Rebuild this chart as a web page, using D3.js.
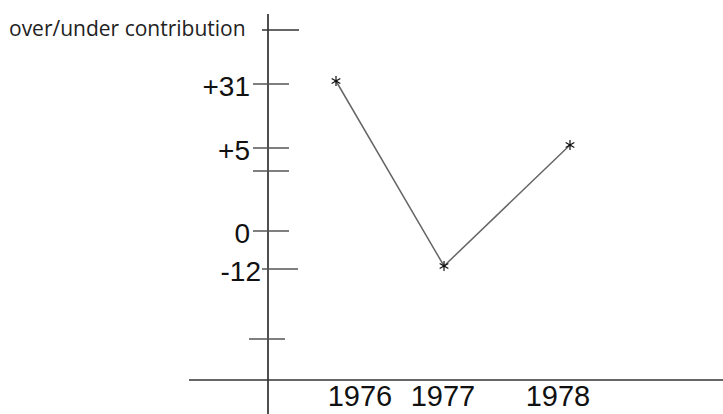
<!doctype html>
<html>
<head>
    <meta charset="UTF-8">
    <title>over/under contribution</title>
    <script src="https://d3js.org/d3.v7.min.js"></script>
    <style>
        body{ margin:0; background:#fff; }
        text{ font-family:"Liberation Sans", Arial, sans-serif; fill:#111; }
        .title{ font-family:"Open Sans", sans-serif; font-size:21px; fill:#222; }
    </style>
</head>
<body>
    <svg width="723" height="414" id="svg1"></svg>

    <script>
        // data
        var years = [1976, 1977, 1978];
        var values = [31, -12, 5];
        // y axis tick marks (hand drawn, not evenly spaced)
        var yTicks = [31, 5, 4, 0, -12, -30];
        var yTickLabels = ["+31", "+5", "", "0", "-12", ""];
        var yTitle = "over/under contribution";

        var w = 723, h = 414;
        var axisX = 268, axisY = 380;

        var svg = d3.select("#svg1");

        // piecewise scales, the sketch is not to scale
        var y = d3.scaleLinear()
                  .domain([31, 5, 4, 0, -12, -30])
                  .range([84, 148, 171, 231, 269, 339]);
        var xPt = d3.scaleLinear()
                    .domain(years)
                    .range([336, 444, 570]);
        var xLab = d3.scaleLinear()
                     .domain(years)
                     .range([360, 443, 558]);

        // axes
        svg.append("line")
           .attr("x1", axisX).attr("x2", axisX)
           .attr("y1", 14).attr("y2", h)
           .attr("stroke", "#222").attr("stroke-width", 1.6);
        svg.append("line")
           .attr("x1", 189).attr("x2", w)
           .attr("y1", axisY).attr("y2", axisY)
           .attr("stroke", "#333").attr("stroke-width", 1.6);

        // title tick
        svg.append("line")
           .attr("x1", axisX - 6).attr("x2", axisX + 31)
           .attr("y1", 30).attr("y2", 30)
           .attr("stroke", "#333").attr("stroke-width", 1.4);
        svg.append("text")
           .attr("class", "title")
           .attr("x", 9).attr("y", 36)
           .text(yTitle);

        var tickShift = {"-12": 9, "-30": -4};

        svg.selectAll("line.ytick")
           .data(yTicks)
           .enter().append("line")
           .attr("class", "ytick")
           .attr("x1", function(d){ return axisX - 15 + (tickShift[d] || 0); })
           .attr("x2", function(d){ return axisX + 21 + (tickShift[d] || 0); })
           .attr("y1", function(d){ return y(d); })
           .attr("y2", function(d){ return y(d); })
           .attr("stroke", "#555").attr("stroke-width", 1.4);

        svg.selectAll("text.ylab")
           .data(yTicks)
           .enter().append("text")
           .attr("class", "ylab")
           .attr("text-anchor", "end")
           .attr("font-size", "28px")
           .attr("x", function(d){ return d === -12 ? 261 : 250; })
           .attr("y", function(d){ return y(d) + 12; })
           .text(function(d, i){ return yTickLabels[i]; });

        // x labels
        svg.selectAll("text.xlab")
           .data(years)
           .enter().append("text")
           .attr("class", "xlab")
           .attr("text-anchor", "middle")
           .attr("font-size", "29px")
           .attr("x", function(d){ return xLab(d); })
           .attr("y", 406)
           .text(function(d){ return d; });

        // line + star markers
        var pts = years.map(function(d, i){ return [xPt(d), y(values[i]) - 3]; });

        svg.append("path")
           .attr("d", d3.line()(pts))
           .attr("fill", "none")
           .attr("stroke", "#666")
           .attr("stroke-width", 1.5);

        svg.selectAll("path.star")
           .data(pts)
           .enter().append("path")
           .attr("class", "star")
           .attr("transform", function(d){ return "translate(" + d[0] + "," + d[1] + ")"; })
           .attr("d", d3.symbol().type(d3.symbolAsterisk).size(70))
           .attr("fill", "none")
           .attr("stroke", "#111")
           .attr("stroke-width", 1.2);
    </script>
</body>
</html>
